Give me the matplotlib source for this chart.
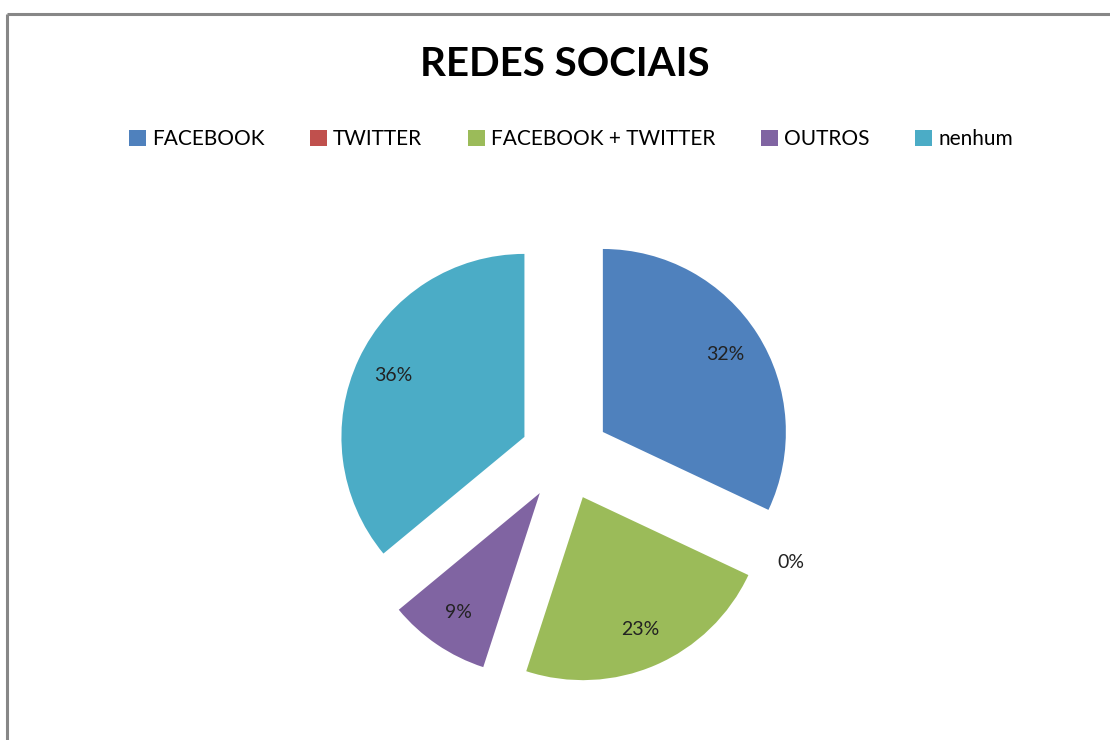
import matplotlib
matplotlib.use("Agg")
import matplotlib.pyplot as plt
from matplotlib.lines import Line2D
from matplotlib.patches import Patch
import numpy as np

title = "REDES SOCIAIS"
categories = ["FACEBOOK", "TWITTER", "FACEBOOK + TWITTER", "OUTROS", "nenhum"]
values = [32, 0, 23, 9, 36]
colors = ["#4F81BD", "#C0504D", "#9BBB59", "#8064A2", "#4BACC6"]

plt.rcParams['font.family'] = ['Lato', 'DejaVu Sans']

W, H = 1110, 740
fig = plt.figure(figsize=(W / 100, H / 100), dpi=100)
ax = fig.add_axes([0, 0, 1, 1])
ax.set_xlim(0, W)
ax.set_ylim(0, H)
ax.axis('off')

cx, cy, R = 565, H - 456, 183
explode_frac = [0.245] * len(values)
wedges, _ = ax.pie(values, colors=colors, startangle=90, counterclock=False,
                   explode=[e * R for e in explode_frac], center=(cx, cy), radius=R,
                   wedgeprops=dict(linewidth=0))
ax.set_xlim(0, W)
ax.set_ylim(0, H)
ax.set_aspect('equal')

total = sum(values)
for w, v, e in zip(wedges, values, explode_frac):
    mid = np.deg2rad((w.theta1 + w.theta2) / 2)
    ox, oy = cx + e * R * np.cos(mid), cy + e * R * np.sin(mid)
    d = 0.79 if v > 0 else 1.12
    ax.text(ox + d * R * np.cos(mid), oy + d * R * np.sin(mid),
            f"{round(100 * v / total)}%", ha='center', va='center',
            fontsize=14, color='#222222')

fig.text(cx / W, 1 - 65 / H, title, ha='center', va='center',
         fontsize=29, fontweight='bold', color='black')

handles = [Patch(facecolor=c, edgecolor='none') for c in colors]
fig.legend(handles, categories, loc='center', bbox_to_anchor=(571 / W, 1 - 139 / H),
           ncol=5, frameon=False, fontsize=15, handlelength=0.8, handleheight=0.8,
           handletextpad=0.3, columnspacing=2.2)

# partial border (top and left)
fig.add_artist(Line2D([7 / W, 7 / W], [0, 1 - 14 / H], color='#878787', linewidth=2.2,
                      transform=fig.transFigure, solid_capstyle='butt'))
fig.add_artist(Line2D([7 / W, 1], [1 - 14 / H, 1 - 14 / H], color='#878787', linewidth=2.2,
                      transform=fig.transFigure, solid_capstyle='butt'))

fig.savefig("out.png", dpi=100)
